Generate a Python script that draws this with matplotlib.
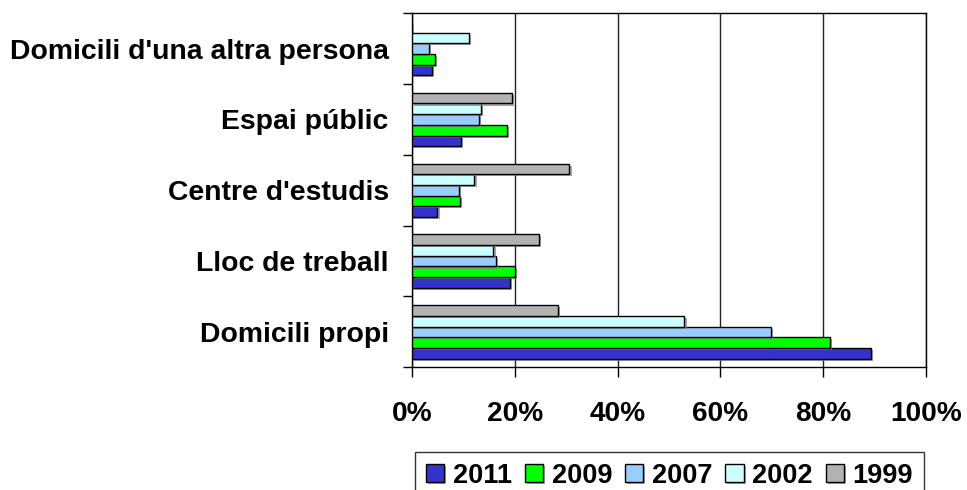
import numpy as np
import matplotlib
matplotlib.use("Agg")
import matplotlib.pyplot as plt
import matplotlib.patheffects as pe

plt.rcParams['font.family'] = ['Liberation Sans', 'DejaVu Sans']
plt.rcParams['font.weight'] = 'bold'

# data (% of cases)
categories = ["Domicili propi", "Lloc de treball", "Centre d'estudis",
              "Espai públic", "Domicili d'una altra persona"]
years = ["2011", "2009", "2007", "2002", "1999"]
v2011 = [89.3, 19.1, 4.9, 9.4, 3.8]
v2009 = [81.4, 20.0, 9.2, 18.4, 4.35]
v2007 = [69.8, 16.3, 9.0, 12.9, 3.2]
v2002 = [53.0, 15.8, 12.1, 13.4, 11.1]
v1999 = [28.3, 24.6, 30.6, 19.4, 0.0]
colors = ["#3333CC", "#00FF00", "#99CCFF", "#CCFFFF", "#B2B2B2"]

series = [v2011, v2009, v2007, v2002, v1999]

fig = plt.figure(figsize=(9.67, 4.9), dpi=100)
ax = fig.add_axes([0.4264, 0.2504, 0.5309, 0.7225])

y = np.arange(len(categories))
h = 0.151
shadow = [pe.SimplePatchShadow(offset=(1.5, -1.5), shadow_rgbFace="#808080", alpha=0.7),
          pe.Normal()]
for i, (vals, col, lab) in enumerate(zip(series, colors, years)):
    bars = ax.barh(y + (i - 2) * h, vals, height=h, color=col, edgecolor="black",
                   linewidth=1.0, label=lab, zorder=3)
    for b in bars:
        if b.get_width() > 0:
            b.set_path_effects(shadow)

ax.set_xlim(0, 100)
ax.set_ylim(-0.5, len(categories) - 0.5)
ax.set_xticks(np.arange(0, 101, 20))
ax.set_xticklabels([f"{t}%" for t in range(0, 101, 20)])
ax.xaxis.grid(True, color="#222222", linewidth=1.0, zorder=0)
ax.tick_params(axis="x", length=7, width=1, pad=17, labelsize=20.2)

# category labels between boundary ticks
ax.set_yticks(np.arange(-0.5, len(categories), 1.0))
ax.set_yticklabels([])
ax.set_yticks(y, minor=True)
ax.set_yticklabels(categories, minor=True)
ax.tick_params(axis="y", which="major", length=6.5, width=1)
ax.tick_params(axis="y", which="minor", length=0, pad=17, labelsize=20.4)

for s in ax.spines.values():
    s.set_linewidth(1.0)
    s.set_color("black")

leg = ax.legend(loc="upper left", bbox_to_anchor=(415 / 967, 1 - 451.7 / 490),
                bbox_transform=fig.transFigure, ncol=5, fontsize=19.5,
                frameon=True, fancybox=False, borderaxespad=0, borderpad=0.4,
                handlelength=0.68, handleheight=0.68, handletextpad=0.32,
                columnspacing=0.47)
leg.get_frame().set_edgecolor("black")
leg.get_frame().set_linewidth(1.0)

fig.savefig("out.png", dpi=100)
